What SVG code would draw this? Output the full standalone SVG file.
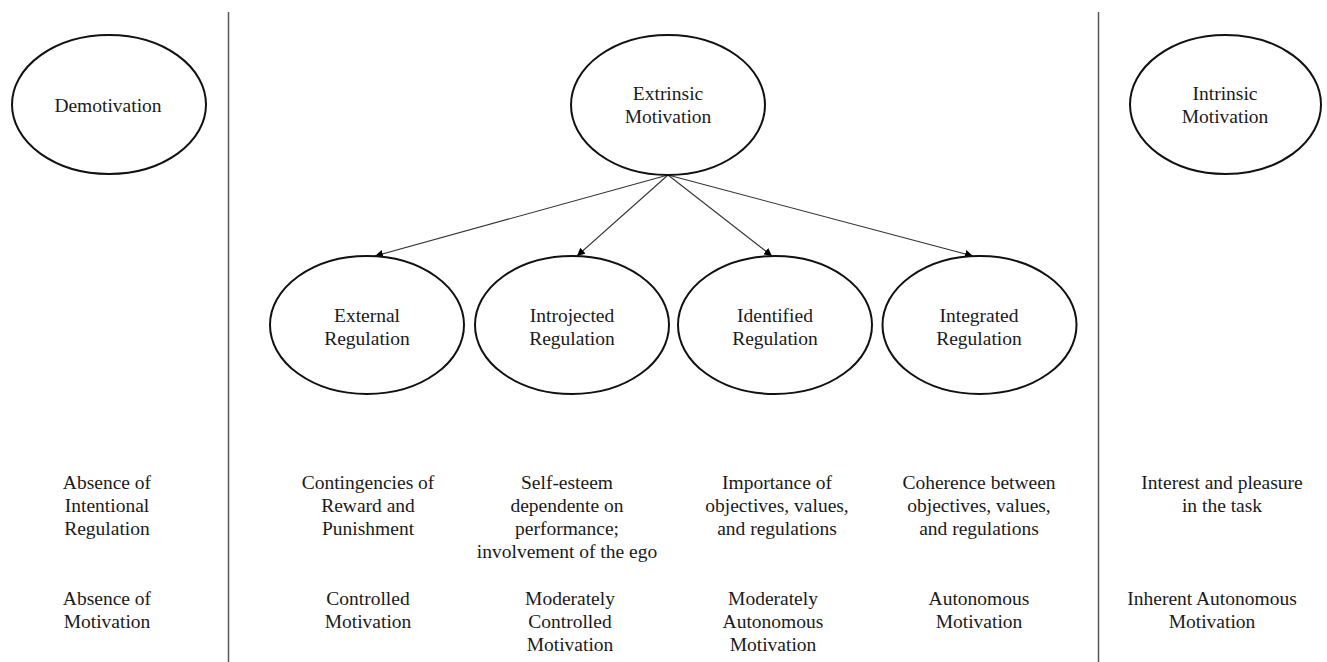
<svg xmlns="http://www.w3.org/2000/svg" width="1327" height="662" viewBox="0 0 1327 662">
<style>
.n{fill:#fff;stroke:#111;stroke-width:2}
.t{font-family:"Liberation Serif","Times New Roman",serif;font-size:19.5px;fill:#1a1a1a;text-anchor:middle}
.c{stroke:#333;stroke-width:1.1;fill:none}
.d{stroke:#555;stroke-width:1.5}
</style>
<defs>
<marker id="ah" viewBox="0 0 10 10" refX="10" refY="5" markerWidth="8" markerHeight="8" markerUnits="userSpaceOnUse" orient="auto">
<path d="M0,0 L10,5 L0,10 z" fill="#000"/>
</marker>
</defs>
<rect width="1327" height="662" fill="#fff"/>
<g id="dividers">
<line class="d" x1="228.5" y1="12" x2="228.5" y2="662"/>
<line class="d" x1="1098.5" y1="12" x2="1098.5" y2="662"/>
</g>
<g id="connectors">
<line class="c" x1="668" y1="175" x2="375" y2="256" marker-end="url(#ah)"/>
<line class="c" x1="668" y1="175" x2="577" y2="256" marker-end="url(#ah)"/>
<line class="c" x1="668" y1="175" x2="772" y2="256" marker-end="url(#ah)"/>
<line class="c" x1="668" y1="175" x2="973" y2="256" marker-end="url(#ah)"/>
</g>
<g id="demotivation">
<ellipse class="n" cx="109" cy="104.5" rx="97" ry="69.5"/>
<text class="t" x="108" y="112">Demotivation</text>
</g>
<g id="extrinsic">
<ellipse class="n" cx="668" cy="105" rx="97" ry="70"/>
<text class="t" x="668" y="100">Extrinsic</text>
<text class="t" x="668" y="123">Motivation</text>
</g>
<g id="intrinsic">
<ellipse class="n" cx="1225.5" cy="104.5" rx="95.5" ry="69.5"/>
<text class="t" x="1225" y="100">Intrinsic</text>
<text class="t" x="1225" y="123">Motivation</text>
</g>
<g id="external">
<ellipse class="n" cx="367" cy="325" rx="97" ry="69"/>
<text class="t" x="367" y="322">External</text>
<text class="t" x="367" y="345">Regulation</text>
</g>
<g id="introjected">
<ellipse class="n" cx="572" cy="325" rx="97" ry="69"/>
<text class="t" x="572" y="322">Introjected</text>
<text class="t" x="572" y="345">Regulation</text>
</g>
<g id="identified">
<ellipse class="n" cx="775" cy="325" rx="97" ry="69"/>
<text class="t" x="775" y="322">Identified</text>
<text class="t" x="775" y="345">Regulation</text>
</g>
<g id="integrated">
<ellipse class="n" cx="979.5" cy="325" rx="97" ry="69"/>
<text class="t" x="979" y="322">Integrated</text>
<text class="t" x="979" y="345">Regulation</text>
</g>
<g id="descriptions">
<text class="t" x="107" y="489">Absence of</text>
<text class="t" x="107" y="512">Intentional</text>
<text class="t" x="107" y="535">Regulation</text>
<text class="t" x="368" y="489">Contingencies of</text>
<text class="t" x="368" y="512">Reward and</text>
<text class="t" x="368" y="535">Punishment</text>
<text class="t" x="567" y="489">Self-esteem</text>
<text class="t" x="567" y="512">dependente on</text>
<text class="t" x="567" y="535">performance;</text>
<text class="t" x="567" y="558">involvement of the ego</text>
<text class="t" x="777" y="489">Importance of</text>
<text class="t" x="777" y="512">objectives, values,</text>
<text class="t" x="777" y="535">and regulations</text>
<text class="t" x="979" y="489">Coherence between</text>
<text class="t" x="979" y="512">objectives, values,</text>
<text class="t" x="979" y="535">and regulations</text>
<text class="t" x="1222" y="489">Interest and pleasure</text>
<text class="t" x="1222" y="512">in the task</text>
</g>
<g id="types">
<text class="t" x="107" y="605">Absence of</text>
<text class="t" x="107" y="628">Motivation</text>
<text class="t" x="368" y="605">Controlled</text>
<text class="t" x="368" y="628">Motivation</text>
<text class="t" x="570" y="605">Moderately</text>
<text class="t" x="570" y="628">Controlled</text>
<text class="t" x="570" y="651">Motivation</text>
<text class="t" x="773" y="605">Moderately</text>
<text class="t" x="773" y="628">Autonomous</text>
<text class="t" x="773" y="651">Motivation</text>
<text class="t" x="979" y="605">Autonomous</text>
<text class="t" x="979" y="628">Motivation</text>
<text class="t" x="1212" y="605">Inherent Autonomous</text>
<text class="t" x="1212" y="628">Motivation</text>
</g>
</svg>
